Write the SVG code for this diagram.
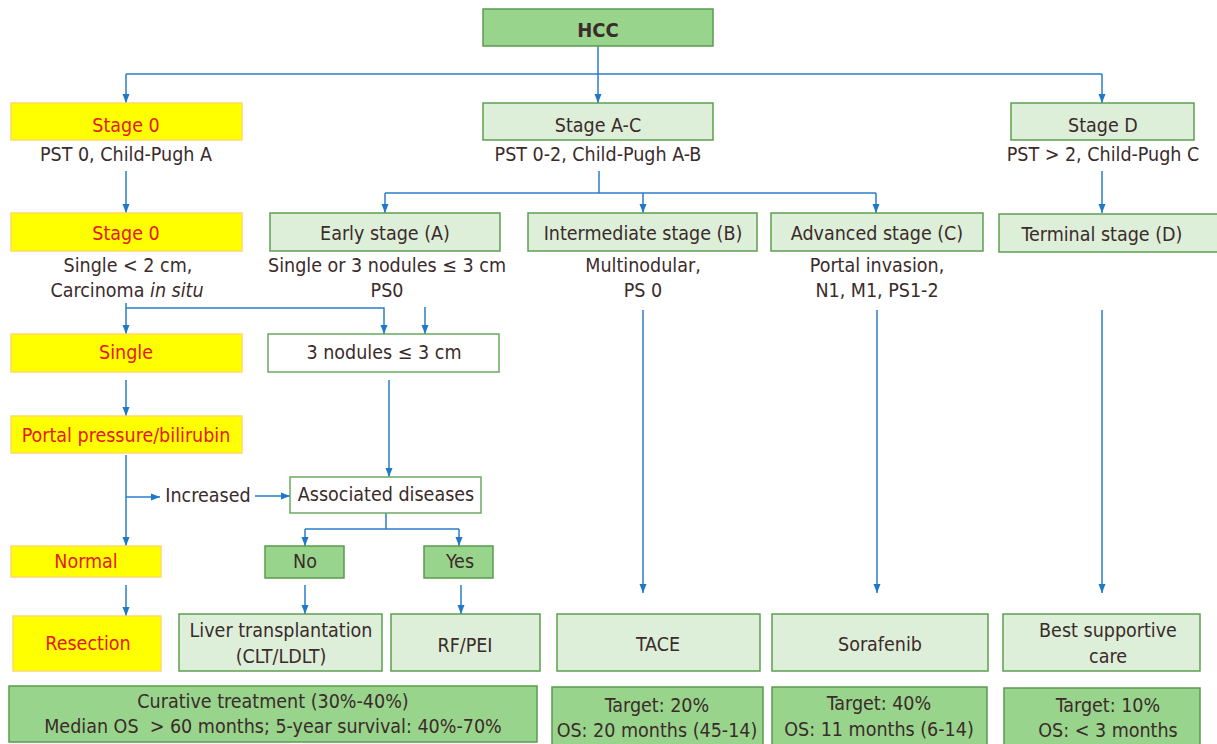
<svg xmlns="http://www.w3.org/2000/svg" width="1217" height="744" viewBox="0 0 1217 744">
<defs>
<marker id="ah" markerUnits="userSpaceOnUse" markerWidth="9" markerHeight="8" refX="9" refY="4" orient="auto">
<path d="M0,0.5 L9,4 L0,7.5 z" fill="#1f78c8"/>
</marker>
<style>
text{font-family:"DejaVu Sans Condensed","DejaVu Sans",sans-serif;font-size:19.5px;fill:#3b2b2b;text-anchor:middle}
.red{fill:#e3191c}
.b{font-weight:bold;font-size:20px}
.yel{fill:#ffff00;stroke:#ffd966;stroke-width:1.5}
.lg{fill:#ddefd9;stroke:#5e9e52;stroke-width:1.5}
.dg{fill:#98d48b;stroke:#5a9a4e;stroke-width:1.5}
.wh{fill:#ffffff;stroke:#6aa860;stroke-width:1.5}
.c path{fill:none;stroke:#2a7dc9;stroke-width:1.5}
.c .a{marker-end:url(#ah)}
</style>
</defs>
<rect width="1217" height="744" fill="#ffffff"/>
<g class="c" id="connectors">
<path d="M598,46 V74"/>
<path d="M126,74 H1102"/>
<path class="a" d="M126,74 V103"/>
<path class="a" d="M598,74 V103"/>
<path class="a" d="M1102,74 V103"/>
<path class="a" d="M126,171 V213"/>
<path d="M599,171 V193"/>
<path d="M385,193 H876"/>
<path class="a" d="M385,193 V213"/>
<path class="a" d="M643,193 V213"/>
<path class="a" d="M876,193 V213"/>
<path class="a" d="M1102,171 V213"/>
<path class="a" d="M126,303 V334"/>
<path class="a" d="M126,308 H384 V334"/>
<path class="a" d="M425,307 V334"/>
<path class="a" d="M126,380 V416"/>
<path class="a" d="M389,380 V477"/>
<path class="a" d="M126,455 V546"/>
<path class="a" d="M126,497 H160"/>
<path class="a" d="M255,496 H290"/>
<path d="M386,513 V529"/>
<path d="M305,529 H459"/>
<path class="a" d="M305,529 V546"/>
<path class="a" d="M459,529 V546"/>
<path class="a" d="M126,585 V616"/>
<path class="a" d="M305,585 V614"/>
<path class="a" d="M461,585 V614"/>
<path class="a" d="M643,310 V593"/>
<path class="a" d="M877,310 V593"/>
<path class="a" d="M1102,310 V593"/>
</g>
<g id="hcc"><rect class="dg" x="483" y="9" width="230" height="37"/><text class="b" x="598" y="37">HCC</text></g>
<g id="stage0a"><rect class="yel" x="11" y="103" width="231" height="37"/><text class="red" x="126" y="132">Stage 0</text><text x="126" y="161">PST 0, Child-Pugh A</text></g>
<g id="stageac"><rect class="lg" x="483" y="103" width="230" height="37"/><text x="598" y="132">Stage A-C</text><text x="598" y="161">PST 0-2, Child-Pugh A-B</text></g>
<g id="staged"><rect class="lg" x="1011" y="103" width="183" height="37"/><text x="1103" y="132">Stage D</text><text x="1103" y="161">PST &gt; 2, Child-Pugh C</text></g>
<g id="stage0b"><rect class="yel" x="11" y="213" width="231" height="38"/><text class="red" x="126" y="240">Stage 0</text><text x="128" y="272">Single &lt; 2 cm,</text><text x="127" y="297">Carcinoma <tspan font-style="italic">in situ</tspan></text></g>
<g id="early"><rect class="lg" x="270" y="213" width="230" height="38"/><text x="385" y="240">Early stage (A)</text><text x="387" y="272">Single or 3 nodules ≤ 3 cm</text><text x="387" y="297">PS0</text></g>
<g id="inter"><rect class="lg" x="528" y="213" width="229" height="38"/><text x="643" y="240">Intermediate stage (B)</text><text x="643" y="272">Multinodular,</text><text x="643" y="297">PS 0</text></g>
<g id="adv"><rect class="lg" x="771" y="213" width="212" height="38"/><text x="877" y="240">Advanced stage (C)</text><text x="877" y="272">Portal invasion,</text><text x="877" y="297">N1, M1, PS1-2</text></g>
<g id="term"><rect class="lg" x="999" y="214" width="220" height="38"/><text x="1102" y="241">Terminal stage (D)</text></g>
<g id="single"><rect class="yel" x="11" y="334" width="231" height="38"/><text class="red" x="126" y="359">Single</text></g>
<g id="nod3"><rect class="wh" x="268" y="334" width="231" height="38"/><text x="384" y="359">3 nodules ≤ 3 cm</text></g>
<g id="portal"><rect class="yel" x="11" y="416" width="231" height="37"/><text class="red" x="126" y="442">Portal pressure/bilirubin</text></g>
<g id="increased"><text x="208" y="502">Increased</text></g>
<g id="assoc"><rect class="wh" x="290" y="477" width="191" height="36"/><text x="386" y="501">Associated diseases</text></g>
<g id="normal"><rect class="yel" x="11" y="546" width="150" height="31"/><text class="red" x="86" y="568">Normal</text></g>
<g id="no"><rect class="dg" x="265" y="546" width="79" height="32"/><text x="305" y="568">No</text></g>
<g id="yes"><rect class="dg" x="424" y="546" width="69" height="32"/><text x="460" y="568">Yes</text></g>
<g id="resection"><rect class="yel" x="13" y="616" width="148" height="55"/><text class="red" x="88" y="650">Resection</text></g>
<g id="lt"><rect class="lg" x="179" y="614" width="203" height="57"/><text x="281" y="637">Liver transplantation</text><text x="281" y="663">(CLT/LDLT)</text></g>
<g id="rfpei"><rect class="lg" x="391" y="614" width="149" height="57"/><text x="465" y="652">RF/PEI</text></g>
<g id="tace"><rect class="lg" x="557" y="614" width="203" height="57"/><text x="658" y="651">TACE</text></g>
<g id="sora"><rect class="lg" x="772" y="614" width="216" height="57"/><text x="880" y="651">Sorafenib</text></g>
<g id="bsc"><rect class="lg" x="1003" y="614" width="197" height="57"/><text x="1108" y="637">Best supportive</text><text x="1108" y="663">care</text></g>
<g id="curative"><rect class="dg" x="9" y="686" width="528" height="56"/><text x="273" y="708">Curative treatment (30%-40%)</text><text x="273" y="733">Median OS&#160; &gt; 60 months; 5-year survival: 40%-70%</text></g>
<g id="t20"><rect class="dg" x="552" y="687" width="211" height="60"/><text x="657" y="712">Target: 20%</text><text x="657" y="737">OS: 20 months (45-14)</text></g>
<g id="t40"><rect class="dg" x="772" y="687" width="215" height="60"/><text x="879" y="710">Target: 40%</text><text x="879" y="736">OS: 11 months (6-14)</text></g>
<g id="t10"><rect class="dg" x="1004" y="688" width="196" height="60"/><text x="1108" y="712">Target: 10%</text><text x="1108" y="737">OS: &lt; 3 months</text></g>
</svg>
